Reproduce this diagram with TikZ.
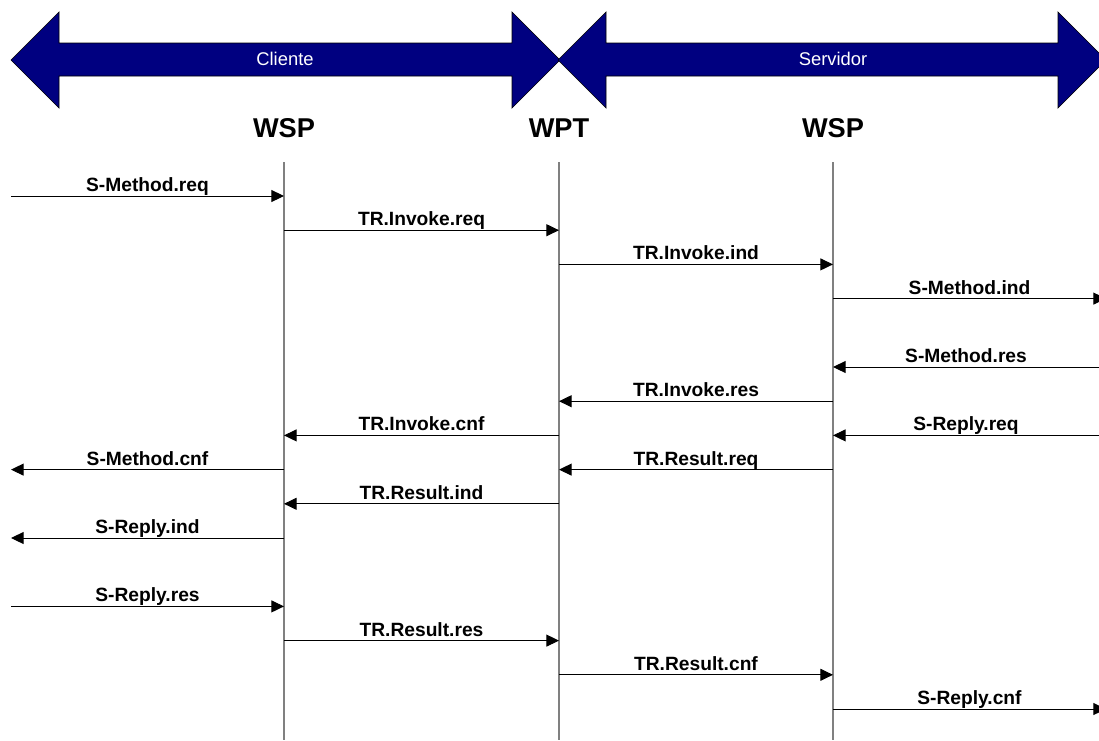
\documentclass[tikz,border=0pt]{standalone}
\usepackage{fontspec}
\setmainfont{Liberation Sans}
\usetikzlibrary{arrows.meta}
\definecolor{bandnavy}{RGB}{0,0,128}
\definecolor{lifegray}{RGB}{128,128,128}
% one message: from lifeline #1 to lifeline #2 at height #3, labelled #4
\newcommand{\sigmsg}[4]{%
  \draw[msg] (#1 |- 0,#3) -- node[lbl] {#4} (#2 |- 0,#3);}
\begin{document}
\begin{tikzpicture}[x=0.75pt,y=-0.75pt,
  band/.style={fill=bandnavy,draw=black,line width=0.5pt,line join=miter},
  bandtext/.style={text=white,font=\fontsize{13.8}{16}\selectfont,inner sep=0pt},
  header/.style={font=\fontsize{20.4}{24}\selectfont\bfseries,inner sep=0pt},
  lifeline/.style={draw=lifegray,line width=1.1pt},
  msg/.style={draw=black,line width=0.75pt,-{Triangle[length=9.5pt,width=9pt]}},
  lbl/.style={midway,anchor=base,yshift=3.4pt,inner sep=0pt,
    font=\fontsize{14.4}{17}\selectfont\bfseries}]
\useasboundingbox (0,0) rectangle (1099,740);
\clip (0,0) rectangle (1099,740);

% double-headed bands for the two sides
\draw[band] (11,60) -- (59,12) -- (59,43) -- (512,43) -- (512,12) -- (560,60)
  -- (512,108) -- (512,76) -- (59,76) -- (59,108) -- cycle;
\draw[band] (558,60) -- (606,12) -- (606,43) -- (1058,43) -- (1058,12) -- (1106,60)
  -- (1058,108) -- (1058,76) -- (606,76) -- (606,108) -- cycle;
\node[bandtext] (cliente) at (285,59) {Cliente};
\node[bandtext] (servidor) at (833,59) {Servidor};

% layer headers
\node[header] (wspc) at (284,128) {WSP};
\node[header] (wpt)  at (559,128) {WPT};
\node[header] (wsps) at (833,128) {WSP};

% lifelines and the free ends at the picture edges
\coordinate (L1) at (284,162);
\coordinate (L2) at (559,162);
\coordinate (L3) at (833,162);
\coordinate (L1end) at (284,740);
\coordinate (L2end) at (559,740);
\coordinate (L3end) at (833,740);
\coordinate (EL) at (11,162);
\coordinate (ER) at (1106,162);
\coordinate (ERin) at (1099,162);
\draw[lifeline] (L1) -- (L1end);
\draw[lifeline] (L2) -- (L2end);
\draw[lifeline] (L3) -- (L3end);

% primitive exchange
\sigmsg{EL}{L1}{196}{S-Method.req}
\sigmsg{L1}{L2}{230.2}{TR.Invoke.req}
\sigmsg{L2}{L3}{264.4}{TR.Invoke.ind}
\sigmsg{L3}{ER}{298.6}{S-Method.ind}
\sigmsg{ERin}{L3}{367}{S-Method.res}
\sigmsg{L3}{L2}{401.2}{TR.Invoke.res}
\sigmsg{L2}{L1}{435.4}{TR.Invoke.cnf}
\sigmsg{ERin}{L3}{435.4}{S-Reply.req}
\sigmsg{L1}{EL}{469.6}{S-Method.cnf}
\sigmsg{L3}{L2}{469.6}{TR.Result.req}
\sigmsg{L2}{L1}{503.8}{TR.Result.ind}
\sigmsg{L1}{EL}{538}{S-Reply.ind}
\sigmsg{EL}{L1}{606.4}{S-Reply.res}
\sigmsg{L1}{L2}{640.6}{TR.Result.res}
\sigmsg{L2}{L3}{674.8}{TR.Result.cnf}
\sigmsg{L3}{ER}{709}{S-Reply.cnf}
\end{tikzpicture}
\end{document}
